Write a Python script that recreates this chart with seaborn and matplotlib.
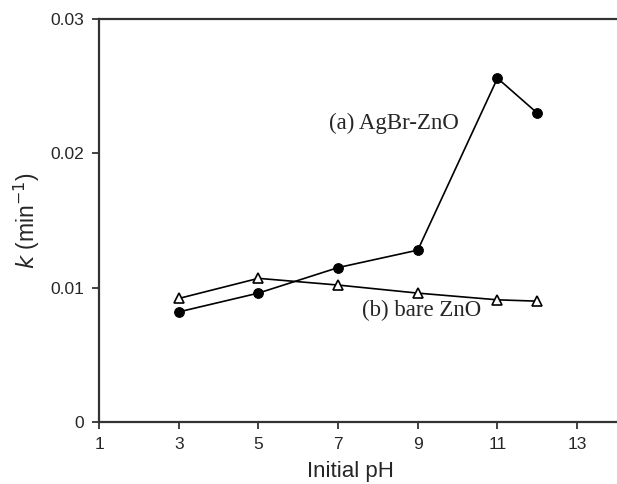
import matplotlib
matplotlib.use("Agg")
import matplotlib.pyplot as plt
import seaborn as sns
import pandas as pd

ph = [3, 5, 7, 9, 11, 12]
k_agbr = [0.0082, 0.0096, 0.0115, 0.0128, 0.0256, 0.0230]
k_bare = [0.0092, 0.0107, 0.0102, 0.0096, 0.0091, 0.0090]
x_ticks = [1, 3, 5, 7, 9, 11, 13]
y_ticks = [0, 0.01, 0.02, 0.03]
y_tick_labels = ["0", "0.01", "0.02", "0.03"]

sns.set_theme(style="ticks")
plt.rcParams['font.family'] = ['Liberation Sans', 'DejaVu Sans']

df_a = pd.DataFrame({"pH": ph, "k": k_agbr})
df_b = pd.DataFrame({"pH": ph, "k": k_bare})

fig = plt.figure(figsize=(6.17, 4.84), dpi=100)
ax = fig.add_axes([0.1605, 0.128, 0.8395, 0.8325])

sns.lineplot(data=df_a, x="pH", y="k", ax=ax, color="black", lw=1.2,
             marker="o", markersize=7, markerfacecolor="black",
             markeredgecolor="black")
sns.lineplot(data=df_b, x="pH", y="k", ax=ax, color="black", lw=1.2,
             marker="^", markersize=7, markerfacecolor="white",
             markeredgecolor="black", markeredgewidth=1.2)

ax.set_xlim(1, 14)
ax.set_ylim(0, 0.03)
ax.set_xticks(x_ticks)
ax.set_xticklabels([str(t) for t in x_ticks], fontsize=12.5)
ax.set_yticks(y_ticks)
ax.set_yticklabels(y_tick_labels, fontsize=12.5)
ax.tick_params(direction="out", length=5, width=1.3, color="#333333", pad=6)

for s in ["left", "bottom", "top"]:
    ax.spines[s].set_linewidth(1.6)
    ax.spines[s].set_color("#333333")
ax.spines["right"].set_visible(False)

ax.set_xlabel("Initial pH", fontsize=16)
ax.xaxis.set_label_coords(0.485, -0.097, transform=ax.transAxes)
ax.xaxis.label.set_va("top")
ax.set_ylabel("$k$ (min$^{-1}$)", fontsize=16.5, labelpad=6)

ax.text(6.78, 0.0222, "(a) AgBr-ZnO", family="Liberation Serif", fontsize=16.5,
        ha="left", va="center")
ax.text(7.6, 0.0083, "(b) bare ZnO", family="Liberation Serif", fontsize=16.5,
        ha="left", va="center")

fig.savefig("out.png", dpi=100)
